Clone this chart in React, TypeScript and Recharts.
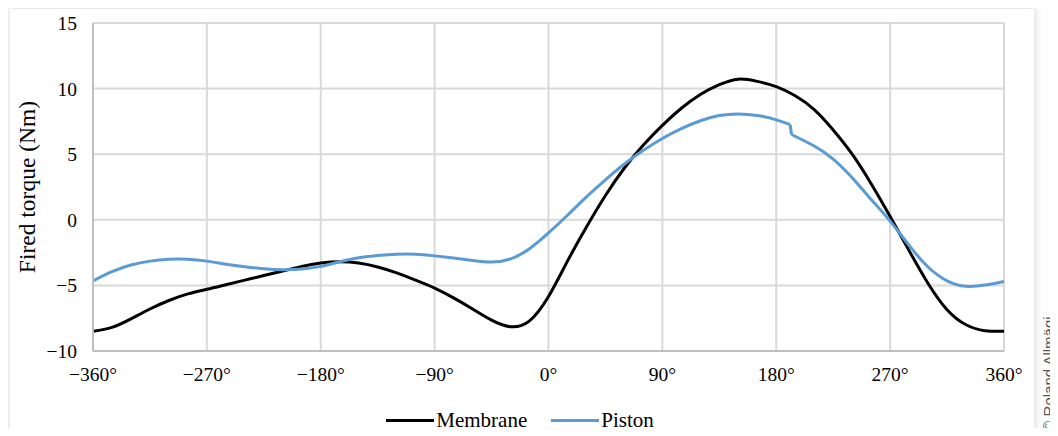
import React from "react";
import {
  CartesianGrid,
  Legend,
  Line,
  LineChart,
  XAxis,
  YAxis,
} from "recharts";

// Crank angle (degrees) on a 15° grid
const angles = [
  -360, -345, -330, -315, -300, -285, -270, -255, -240, -225, -210, -195,
  -180, -165, -150, -135, -120, -105, -90, -75, -60, -45, -30, -15, 0, 15,
  30, 45, 60, 75, 90, 105, 120, 135, 150, 165, 180, 195, 210, 225, 240, 255,
  270, 285, 300, 315, 330, 345, 360,
];

// Fired torque (Nm), membrane engine
const membrane = [
  -8.5, -8.2, -7.55, -6.8, -6.15, -5.65, -5.3, -4.95, -4.6, -4.25, -3.9,
  -3.55, -3.3, -3.2, -3.3, -3.6, -4.05, -4.6, -5.2, -5.95, -6.8, -7.65, -8.15,
  -7.7, -5.85, -3.15, -0.55, 1.85, 3.95, 5.7, 7.2, 8.5, 9.55, 10.3, 10.72,
  10.55, 10.15, 9.45, 8.4, 6.85, 5.0, 2.75, 0.25, -2.35, -4.85, -6.85, -8.0,
  -8.45, -8.5,
];

// Piston engine: the curve has a small step just after 190°
const pistonAnglesA = [
  -360, -345, -330, -315, -300, -285, -270, -255, -240, -225, -210, -195,
  -180, -165, -150, -135, -120, -105, -90, -75, -60, -45, -30, -15, 0, 15,
  30, 45, 60, 75, 90, 105, 120, 135, 150, 165, 180, 191,
];
const pistonA = [
  -4.65, -3.95, -3.45, -3.15, -3.0, -3.0, -3.15, -3.38, -3.58, -3.73, -3.8,
  -3.75, -3.55, -3.2, -2.9, -2.72, -2.62, -2.62, -2.75, -2.92, -3.1, -3.22,
  -2.98, -2.2, -1.0, 0.35, 1.75, 3.05, 4.25, 5.3, 6.2, 6.95, 7.55, 7.95, 8.07,
  7.95, 7.62, 7.25,
];
const pistonAnglesB = [192, 210, 225, 240, 255, 270, 285, 300, 315, 330, 345, 360];
const pistonB = [6.5, 5.62, 4.62, 3.2, 1.55, -0.1, -1.95, -3.6, -4.65, -5.07, -4.97, -4.7];

const xTicks = [-360, -270, -180, -90, 0, 90, 180, 270, 360];
const yTicks = [-10, -5, 0, 5, 10, 15];

const seriesInfo = [
  { name: "Membrane", color: "#000000" },
  { name: "Piston", color: "#5b9bd5" },
];

const membraneData = angles.map((a, i) => ({ angle: a, value: membrane[i] }));
const pistonDataA = pistonAnglesA.map((a, i) => ({ angle: a, value: pistonA[i] }));
const pistonDataB = pistonAnglesB.map((a, i) => ({ angle: a, value: pistonB[i] }));

const fmt = (v: number) => (v < 0 ? "\u2212" + Math.abs(v) : String(v));

const FONT = '"Liberation Serif", "Times New Roman", serif';

const LegendContent = () => (
  <div
    style={{
      height: 45,
      display: "flex",
      justifyContent: "center",
      alignItems: "flex-end",
      paddingRight: 18,
      boxSizing: "border-box",
      fontFamily: FONT,
      fontSize: 21,
      color: "#000",
    }}
  >
    {seriesInfo.map((s) => (
      <div
        key={s.name}
        style={{ display: "flex", alignItems: "center", margin: "0 12px 3px" }}
      >
        <div
          style={{ width: 48, height: 3, background: s.color, marginRight: 2 }}
        />
        <span>{s.name}</span>
      </div>
    ))}
  </div>
);

export default function App() {
  return (
    <div
      style={{
        position: "relative",
        width: 1058,
        height: 436,
        margin: -8,
        overflow: "hidden",
        background: "#ffffff",
      }}
    >
      <div
        style={{
          position: "absolute",
          left: 10,
          top: 9,
          width: 1024,
          height: 450,
          background: "#ffffff",
          boxShadow: "0 0 7px 2px rgba(0,0,0,0.13)",
        }}
      />
      <div style={{ position: "absolute", left: 0, top: 0 }}>
        <LineChart
          width={1058}
          height={436}
          margin={{ top: 23, right: 54, bottom: 0, left: 0 }}
        >
          <CartesianGrid stroke="#d9d9d9" strokeWidth={2} />
          <XAxis
            dataKey="angle"
            type="number"
            domain={[-360, 360]}
            ticks={xTicks}
            tickFormatter={(v: number) => fmt(v) + "\u00b0"}
            height={40}
            axisLine={{ stroke: "#bfbfbf", strokeWidth: 2 }}
            tickLine={false}
            tick={{ fill: "#000", fontSize: 19.5, fontFamily: FONT }}
            tickMargin={10}
            interval={0}
            allowDuplicatedCategory={false}
          />
          <YAxis
            type="number"
            domain={[-10, 15]}
            ticks={yTicks}
            tickFormatter={fmt}
            width={93}
            axisLine={{ stroke: "#bfbfbf", strokeWidth: 2 }}
            tickLine={false}
            tick={{ fill: "#000", fontSize: 19.5, fontFamily: FONT }}
            tickMargin={10}
            interval={0}
            label={{
              value: "Fired torque (Nm)",
              angle: -90,
              position: "insideLeft",
              offset: 27,
              style: {
                textAnchor: "middle",
                fontFamily: FONT,
                fontSize: 23.5,
                fill: "#000",
              },
            }}
          />
          <Legend
            verticalAlign="bottom"
            content={<LegendContent />}
            wrapperStyle={{ left: 0, width: 1058 }}
          />
          <Line
            data={membraneData}
            dataKey="value"
            name="Membrane"
            type="natural"
            stroke="#000000"
            strokeWidth={3}
            dot={false}
            activeDot={false}
            isAnimationActive={false}
          />
          <Line
            data={pistonDataA}
            dataKey="value"
            name="Piston"
            type="natural"
            stroke="#5b9bd5"
            strokeWidth={3}
            dot={false}
            activeDot={false}
            isAnimationActive={false}
          />
          <Line
            data={[pistonDataA[pistonDataA.length - 1], pistonDataB[0]]}
            dataKey="value"
            name="Piston step"
            type="linear"
            stroke="#5b9bd5"
            strokeWidth={3}
            dot={false}
            activeDot={false}
            isAnimationActive={false}
          />
          <Line
            data={pistonDataB}
            dataKey="value"
            name="Piston"
            type="natural"
            stroke="#5b9bd5"
            strokeWidth={3}
            dot={false}
            activeDot={false}
            isAnimationActive={false}
          />
        </LineChart>
      </div>
      <div
        style={{
          position: "absolute",
          left: 1048,
          top: 374,
          transform: "translate(-50%, -50%) rotate(-90deg)",
          whiteSpace: "nowrap",
          fontFamily: '"Liberation Sans", Arial, sans-serif',
          fontSize: 15,
          color: "#555555",
        }}
      >
        © Roland Allmägi
      </div>
    </div>
  );
}
